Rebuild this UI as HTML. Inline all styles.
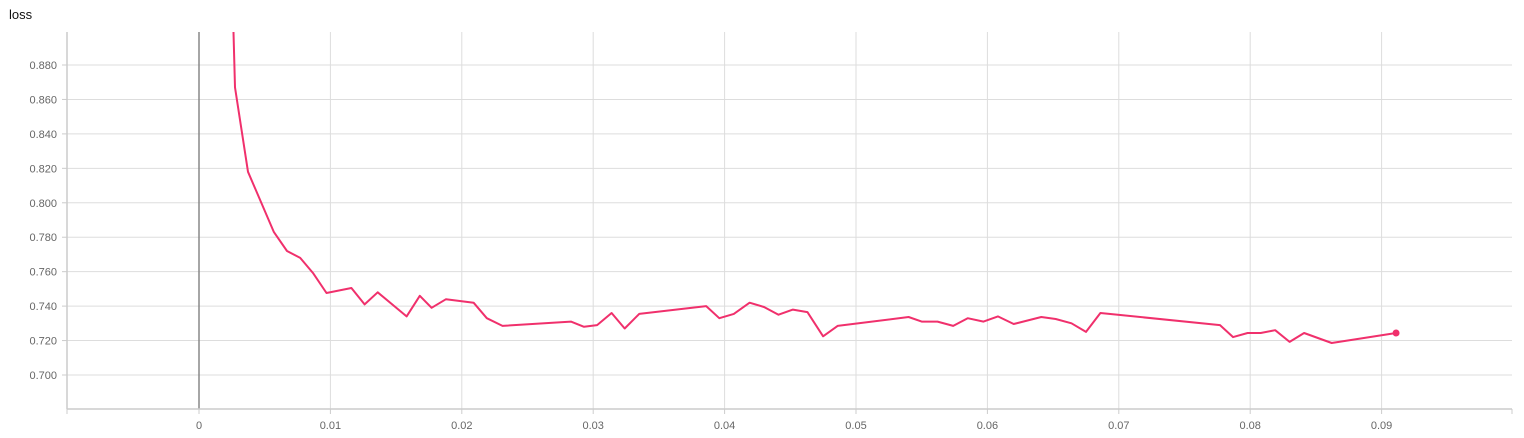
<!DOCTYPE html>
<html><head><meta charset="utf-8"><style>
body{margin:0;background:#fff;width:1524px;height:433px;overflow:hidden;font-family:"Liberation Sans",sans-serif}
</style></head><body>
<svg width="1524" height="433" id="chart">
<text x="9" y="19" font-size="13" fill="#111">loss</text>
<g id="grid"></g><g id="axes"></g>
<defs><clipPath id="clip"><rect x="67" y="32" width="1445" height="377"/></clipPath></defs>
<g id="series" clip-path="url(#clip)"></g>
</svg>
<script>
const xTicks=[0,0.01,0.02,0.03,0.04,0.05,0.06,0.07,0.08,0.09];
const xTickLabels=["0","0.01","0.02","0.03","0.04","0.05","0.06","0.07","0.08","0.09"];
const yTicks=[0.70,0.72,0.74,0.76,0.78,0.80,0.82,0.84,0.86,0.88];
const stepX=[0.00244,0.00274,0.00373,0.0057,0.0067,0.0077,0.0087,0.0097,0.0116,0.0126,0.0136,0.0158,0.0168,0.0177,0.0188,0.0209,0.0219,0.0231,0.0283,0.0293,0.0303,0.0314,0.0324,0.0335,0.0386,0.0396,0.0407,0.0419,0.043,0.0441,0.0452,0.0463,0.0475,0.0486,0.054,0.055,0.0562,0.0574,0.0585,0.0597,0.0608,0.062,0.0641,0.0652,0.0664,0.0675,0.0686,0.0777,0.0787,0.0798,0.0808,0.0819,0.083,0.0841,0.0862,0.0911];
const lossValues=[0.95,0.867,0.818,0.783,0.772,0.768,0.759,0.7476,0.7505,0.741,0.748,0.734,0.746,0.739,0.744,0.742,0.733,0.7285,0.731,0.728,0.729,0.736,0.727,0.7355,0.740,0.733,0.7355,0.742,0.7395,0.735,0.738,0.7365,0.7225,0.7285,0.7337,0.731,0.731,0.7285,0.733,0.731,0.734,0.7296,0.7337,0.7325,0.730,0.725,0.736,0.729,0.722,0.7244,0.7244,0.726,0.7192,0.7244,0.7186,0.7244];
const NS="http://www.w3.org/2000/svg";
const L=67,R=1512,T=32,B=409;
const xs=v=>199+v*13140;
const ys=v=>375-(v-0.7)*1722.2;
function mk(tag,attrs,parent){const e=document.createElementNS(NS,tag);for(const k in attrs)e.setAttribute(k,attrs[k]);document.getElementById(parent).appendChild(e);return e;}
yTicks.forEach(v=>{
  const l=mk('line',{x1:L,x2:R,y1:ys(v),y2:ys(v),stroke:'#ddd','stroke-width':1},'grid');
  
  
  const t=mk('text',{x:57,y:ys(v)+4,'text-anchor':'end','font-size':11,fill:'#666'},'axes');
  t.textContent=v.toFixed(3);
  
  
  const tk=mk('line',{x1:L-5,x2:L,y1:ys(v),y2:ys(v),stroke:'#ccc'},'axes');
  
  
});
xTicks.forEach((v,i)=>{
  const l=mk('line',{x1:xs(v),x2:xs(v),y1:T,y2:B,stroke:v===0?'#888':'#ddd','stroke-width':v===0?1.5:1},'grid');
  
  
  const tk=mk('line',{x1:xs(v),x2:xs(v),y1:B,y2:B+5,stroke:'#ccc'},'axes');
  
  
  const t=mk('text',{x:xs(v),y:429,'text-anchor':'middle','font-size':11,fill:'#666'},'axes');
  t.textContent=xTickLabels[i];
  
  
});
const ya=mk('line',{x1:L,x2:L,y1:T,y2:B,stroke:'#ccc','stroke-width':1.5},'axes');


const xa=mk('line',{x1:L,x2:R,y1:B,y2:B,stroke:'#ccc','stroke-width':1.5},'axes');


const xr=mk('line',{x1:R,x2:R,y1:B,y2:B+5,stroke:'#ccc'},'axes');


const xl=mk('line',{x1:L,x2:L,y1:B,y2:B+5,stroke:'#ccc'},'axes');


const pts=stepX.map((x,i)=>xs(x).toFixed(1)+','+ys(lossValues[i]).toFixed(1)).join(' ');
const line=mk('polyline',{points:pts,fill:'none',stroke:'#f0306c','stroke-width':2,'stroke-linejoin':'round'},'series');


const n=stepX.length-1;
const dot=mk('circle',{cx:xs(stepX[n]),cy:ys(lossValues[n]),r:3.5,fill:'#f0306c'},'series');


</script>
</body></html>
